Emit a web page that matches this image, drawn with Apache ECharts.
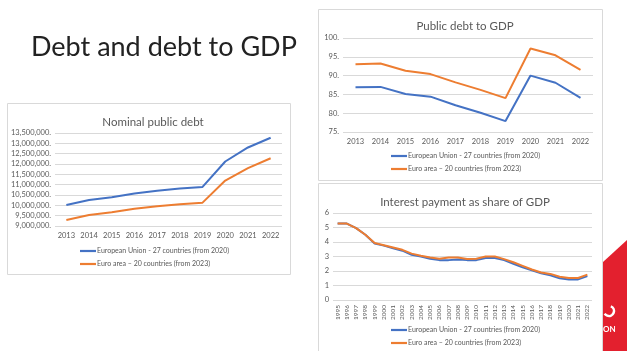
<!DOCTYPE html>
<html><head><meta charset="utf-8">
<script src="https://cdn.jsdelivr.net/npm/echarts@6/dist/echarts.min.js"></script>
<style>html,body{margin:0;padding:0;background:#fff}#c{width:627px;height:351px}</style>
</head><body><div id="c"></div>
<script>
const seriesNames = ['European Union - 27 countries (from 2020)', 'Euro area – 20 countries (from 2023)'];
const years1 = ['2013','2014','2015','2016','2017','2018','2019','2020','2021','2022'];
const nominalEU = [10020000, 10260000, 10390000, 10570000, 10700000, 10810000, 10890000, 12120000, 12800000, 13270000];
const nominalEA = [9290000, 9530000, 9660000, 9830000, 9950000, 10050000, 10130000, 11200000, 11800000, 12280000];
const debtGdpEU = [86.9, 87.0, 85.1, 84.4, 82.1, 80.1, 77.9, 90.0, 88.1, 84.1];
const debtGdpEA = [93.0, 93.2, 91.3, 90.4, 88.2, 86.2, 84.0, 97.2, 95.4, 91.5];
const years2 = ['1995','1996','1997','1998','1999','2000','2001','2002','2003','2004','2005','2006','2007','2008','2009','2010','2011','2012','2013','2014','2015','2016','2017','2018','2019','2020','2021','2022'];
const interestEU = [5.27, 5.27, 4.96, 4.5, 3.9, 3.75, 3.57, 3.4, 3.12, 3.0, 2.85, 2.75, 2.75, 2.8, 2.75, 2.75, 2.9, 2.9, 2.75, 2.5, 2.25, 2.05, 1.85, 1.7, 1.5, 1.42, 1.42, 1.65];
const interestEA = [5.27, 5.27, 4.96, 4.5, 3.93, 3.78, 3.62, 3.46, 3.2, 3.05, 2.93, 2.85, 2.93, 2.93, 2.82, 2.85, 3.0, 3.0, 2.82, 2.6, 2.35, 2.1, 1.9, 1.8, 1.6, 1.52, 1.52, 1.75];
const mainTitle = 'Debt and debt to GDP';
const chartTitles = ['Nominal public debt', 'Public debt to GDP', 'Interest payment as share of GDP'];

const FONT = 'Lato';
const GREY = '#595959';
const BLUE = '#4472C4';
const ORANGE = '#ED7D31';
const chart = echarts.init(document.getElementById('c'));

function xAx(grid, data, extra) {
  return Object.assign({
    type: 'category', gridIndex: grid, data: data, boundaryGap: true,
    axisLine: {show: false}, axisTick: {show: false},
    axisLabel: {color: GREY, fontFamily: FONT, fontSize: 7.5, margin: 6}
  }, extra || {});
}
function yAx(grid, min, max, interval, fmt) {
  return {
    type: 'value', gridIndex: grid, min: min, max: max, interval: interval,
    axisLine: {show: false}, axisTick: {show: false},
    splitLine: {lineStyle: {color: '#d9d9d9', width: 1}},
    axisLabel: {color: GREY, fontFamily: FONT, fontSize: 7.5, margin: 4, formatter: fmt}
  };
}
function line(name, data, xi, yi, color) {
  return {type: 'line', name: name, data: data, xAxisIndex: xi, yAxisIndex: yi,
    showSymbol: false, symbol: 'none', lineStyle: {color: color, width: 2}, itemStyle: {color: color},
    smooth: false, z: color === ORANGE ? 3 : 2};
}
function leg(left, top) {
  return {data: seriesNames, left: left, top: top, orient: 'vertical', icon: 'rect',
    itemWidth: 16, itemHeight: 2.2, itemGap: 3, padding: 0,
    textStyle: {color: GREY, fontFamily: FONT, fontSize: 7, lineHeight: 10, padding: [0,0,0,-4]}};
}
const titleStyle = {color: GREY, fontFamily: FONT, fontSize: 11.5, fontWeight: 'normal'};

chart.setOption({
  animation: false,
  title: [
    {text: mainTitle, left: 26, top: 29, textStyle: {color: '#222', fontFamily: FONT, fontSize: 27, fontWeight: 'normal'}},
    {text: chartTitles[0], left: 148, top: 111, textAlign: 'center', textStyle: titleStyle},
    {text: chartTitles[1], left: 460, top: 15, textAlign: 'center', textStyle: titleStyle},
    {text: chartTitles[2], left: 460, top: 191, textAlign: 'center', textStyle: titleStyle}
  ],
  legend: [leg(80, 246), leg(391, 151), leg(391, 325)],
  grid: [
    {left: 55, right: 345, top: 133, bottom: 125},
    {left: 343, right: 34, top: 38, bottom: 219},
    {left: 333, right: 35, top: 213, bottom: 51}
  ],
  xAxis: [
    xAx(0, years1),
    xAx(1, years1),
    xAx(2, years2, {axisLabel: {color: GREY, fontFamily: FONT, fontSize: 6.5, rotate: 90, margin: 5, interval: 0}})
  ],
  yAxis: [
    yAx(0, 9000000, 13500000, 500000, v => v.toLocaleString('en-US') + '.'),
    yAx(1, 75, 100, 5, v => v + '.'),
    yAx(2, 0, 6, 1, v => String(v))
  ],
  series: [
    line(seriesNames[0], nominalEU, 0, 0, BLUE),
    line(seriesNames[1], nominalEA, 0, 0, ORANGE),
    line(seriesNames[0], debtGdpEU, 1, 1, BLUE),
    line(seriesNames[1], debtGdpEA, 1, 1, ORANGE),
    line(seriesNames[0], interestEU, 2, 2, BLUE),
    line(seriesNames[1], interestEA, 2, 2, ORANGE)
  ],
  graphic: [
    {type: 'rect', shape: {x: 7.5, y: 103.5, width: 283, height: 171}, style: {fill: 'none', stroke: '#d9d9d9', lineWidth: 1}, z: -1},
    {type: 'rect', shape: {x: 318.5, y: 9.5, width: 284, height: 171}, style: {fill: 'none', stroke: '#d9d9d9', lineWidth: 1}, z: -1},
    {type: 'rect', shape: {x: 318.5, y: 183.5, width: 284, height: 180}, style: {fill: 'none', stroke: '#d9d9d9', lineWidth: 1}, z: -1},
    {type: 'polygon', shape: {points: [[603, 262], [627, 240], [627, 351], [603, 351]]}, style: {fill: '#E3202E'}, z: 10},
    {type: 'arc', shape: {cx: 609, cy: 311, r: 5, startAngle: -1.2, endAngle: 2.6}, style: {stroke: '#fff', lineWidth: 2.5, fill: 'none'}, z: 11},
    {type: 'text', left: 603, top: 325, style: {text: 'ON', fill: '#fff', font: 'bold 8px ' + FONT}, z: 11}
  ]
});
</script></body></html>
